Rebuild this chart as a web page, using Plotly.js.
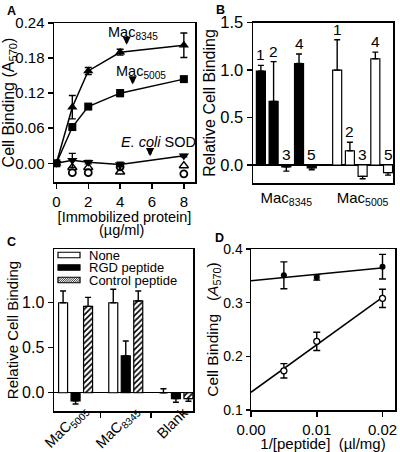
<!DOCTYPE html>
<html><head><meta charset="utf-8">
<script src="https://cdn.plot.ly/plotly-3.0.1.min.js"></script>
<style>html,body{margin:0;padding:0;background:#fff}</style>
</head><body><div id="chart" style="width:400px;height:452px"></div>
<script>
// ---------- Panel A ----------
const aConc = [0, 1, 2, 4, 8];
const aMac8345 = [0, 0.096, 0.158, 0.19, 0.202];
const aMac8345Err = [0.002, 0.02, 0.006, 0.005, 0.021];
const aMac5005 = [0, 0.062, 0.097, 0.12, 0.144];
const aMac5005Err = [0.002, 0.003, 0.004, 0.006, 0.002];
const aSod = [0, 0.005, 0.002, -0.002, 0.013];
const aSodErr = [0.002, 0.012, 0.003, 0.004, 0.002];
const aCtrlConc = [1, 2, 4, 8];
const aCtrlTriangle = [-0.007, -0.007, -0.015, -0.004];
const aCtrlCircle = [-0.016, -0.016, -0.006, -0.018];

// ---------- Panel B ----------
const bGroups = ['Mac<sub>8345</sub>', 'Mac<sub>5005</sub>'];
const bBarLabels = ['1', '2', '3', '4', '5'];
const bMac8345 = [0.99, 0.67, -0.02, 1.07, -0.03];
const bMac8345Err = [0.06, 0.42, 0.045, 0.10, 0.02];
const bMac5005 = [1.0, 0.15, -0.12, 1.12, -0.08];
const bMac5005Err = [0.32, 0.09, 0.025, 0.07, 0.027];

// ---------- Panel C ----------
const cCategories = ['MaC<sub>5005</sub>', 'MaC<sub>8345</sub>', 'Blank'];
const cSeriesNames = ['None', 'RGD peptide', 'Control peptide'];
const cNone = [1.0, 1.0, 0.0];
const cNoneErr = [0.13, 0.15, 0.045];
const cRgd = [-0.09, 0.41, -0.065];
const cRgdErr = [0.035, 0.165, 0.04];
const cControl = [0.96, 1.02, -0.065];
const cControlErr = [0.10, 0.11, 0.03];

// ---------- Panel D ----------
const dInvPeptide = [0.005, 0.01, 0.02];
const dFilled = [0.351, 0.347, 0.367];
const dFilledErr = [0.025, 0.005, 0.023];
const dOpen = [0.173, 0.228, 0.308];
const dOpenErr = [0.0135, 0.017, 0.017];

// ---------- helpers ----------
const FONT = 'Liberation Sans, Arial, Helvetica, sans-serif';
const W = 400, H = 452;
const px = v => v / W;
const py = v => 1 - v / H;
const dx = (a, b) => [a / W, b / W];
const dy = (top, bottom) => [1 - bottom / H, 1 - top / H];
const tf = s => ({size: s, family: FONT, color: 'black'});

function oneSidedErr(vals, errs) {
  return {
    type: 'data', symmetric: false,
    array: vals.map((v, i) => v >= 0 ? errs[i] : 0),
    arrayminus: vals.map((v, i) => v < 0 ? errs[i] : 0),
    color: 'black', thickness: 1.4, width: 3
  };
}
function symErr(errs) {
  return {type: 'data', array: errs, color: 'black', thickness: 1.4, width: 3.5};
}
function fit(xs, ys) {
  const n = xs.length;
  const mx = xs.reduce((a, b) => a + b, 0) / n;
  const my = ys.reduce((a, b) => a + b, 0) / n;
  let sxy = 0, sxx = 0;
  for (let i = 0; i < n; i++) { sxy += (xs[i] - mx) * (ys[i] - my); sxx += (xs[i] - mx) ** 2; }
  const m = sxy / sxx, b = my - m * mx;
  const x0 = 0, x1 = Math.max(...xs) + 0.0002;
  return {x: [x0, x1], y: [b + m * x0, b + m * x1]};
}

const axBase = {
  showline: true, linecolor: 'black', linewidth: 1.5, mirror: true,
  ticks: 'outside', ticklen: 5, tickwidth: 1.5, tickcolor: 'black',
  showgrid: false, zeroline: false, automargin: false
};

const traces = [];
// Panel A traces
const lineA = {color: 'black', width: 1.5};
traces.push({x: aConc, y: aMac8345, xaxis: 'x', yaxis: 'y', mode: 'lines+markers', name: 'Mac8345',
  line: lineA, marker: {symbol: 'triangle-up', size: 9, color: 'black'}, error_y: symErr(aMac8345Err)});
traces.push({x: aConc, y: aMac5005, xaxis: 'x', yaxis: 'y', mode: 'lines+markers', name: 'Mac5005',
  line: lineA, marker: {symbol: 'square', size: 8, color: 'black'}, error_y: symErr(aMac5005Err)});
traces.push({x: aConc, y: aSod, xaxis: 'x', yaxis: 'y', mode: 'lines+markers', name: 'E. coli SOD',
  line: lineA, marker: {symbol: 'triangle-down', size: 9, color: 'black'}, error_y: symErr(aSodErr)});
traces.push({x: aCtrlConc, y: aCtrlTriangle, xaxis: 'x', yaxis: 'y', mode: 'markers', name: 'control 1',
  marker: {symbol: 'triangle-up-open', size: 8, color: 'black', line: {width: 1.5}}});
traces.push({x: aCtrlConc, y: aCtrlCircle, xaxis: 'x', yaxis: 'y', mode: 'markers', name: 'control 2',
  marker: {symbol: 'circle-open', size: 7, color: 'black', line: {width: 1.8}}});

// Panel B trace (single bar trace, two groups)
const bX = [], bY = [], bE = [], bC = [];
[bMac8345, bMac5005].forEach((arr, g) => {
  arr.forEach((v, i) => {
    bX.push(g * 6 + i); bY.push(v);
    bE.push((g === 0 ? bMac8345Err : bMac5005Err)[i]);
    bC.push(g === 0 ? 'black' : 'white');
  });
});
traces.push({type: 'bar', x: bX, y: bY, xaxis: 'x2', yaxis: 'y2', width: 0.71,
  marker: {color: bC, line: {color: 'black', width: 1.2}}, error_y: oneSidedErr(bY, bE)});

// Panel C traces
const cStyles = [
  {color: 'white', line: {color: 'black', width: 1.2}},
  {color: 'black', line: {color: 'black', width: 1.2}},
  {color: 'white', line: {color: 'black', width: 1.2},
   pattern: {shape: '/', fgcolor: 'black', bgcolor: 'white', size: 4, solidity: 0.4, fillmode: 'replace'}}
];
[[cNone, cNoneErr], [cRgd, cRgdErr], [cControl, cControlErr]].forEach((pair, k) => {
  traces.push({type: 'bar', x: cCategories, y: pair[0], name: cSeriesNames[k], xaxis: 'x3', yaxis: 'y3',
    marker: cStyles[k], error_y: oneSidedErr(pair[0], pair[1])});
});

// Panel D traces
const fF = fit(dInvPeptide, dFilled), fO = fit(dInvPeptide, dOpen);
traces.push({x: fF.x, y: fF.y, xaxis: 'x4', yaxis: 'y4', mode: 'lines', line: {color: 'black', width: 1.5}, name: 'fit filled'});
traces.push({x: fO.x, y: fO.y, xaxis: 'x4', yaxis: 'y4', mode: 'lines', line: {color: 'black', width: 1.5}, name: 'fit open'});
traces.push({x: dInvPeptide, y: dFilled, xaxis: 'x4', yaxis: 'y4', mode: 'markers', name: 'filled',
  marker: {symbol: 'circle', size: 6, color: 'black'}, error_y: symErr(dFilledErr)});
traces.push({x: dInvPeptide, y: dOpen, xaxis: 'x4', yaxis: 'y4', mode: 'markers', name: 'open',
  marker: {symbol: 'circle', size: 6, color: 'white', line: {color: 'black', width: 1.3}}, error_y: symErr(dOpenErr)});

// annotations
const ann = [];
const letter = (t, x, y) => ann.push({text: '<b>' + t + '</b>', xref: 'paper', yref: 'paper', x: px(x), y: py(y),
  showarrow: false, font: tf(12.5), xanchor: 'center', yanchor: 'middle'});
letter('A', 11, 11); letter('B', 220, 10); letter('C', 11, 242); letter('D', 219, 238);

// Panel A labels + arrows
const aTxt = (t, x, y) => ann.push({text: t, xref: 'x', yref: 'y', x: x, y: y, showarrow: false,
  font: tf(14.5), xanchor: 'center', yanchor: 'middle'});
aTxt('Mac<sub>8345</sub>', 4.78, 0.223);
aTxt('Mac<sub>5005</sub>', 5.3, 0.157);
aTxt('<i>E. coli</i> SOD', 6.42, 0.037);
const aArrow = (x, y) => ann.push({text: '', xref: 'x', yref: 'y', x: x, y: y, ax: 0, ay: -7, showarrow: true,
  arrowhead: 2, arrowsize: 0.55, arrowwidth: 3, arrowcolor: 'black'});
aArrow(4.41, 0.203); aArrow(4.79, 0.135); aArrow(5.88, 0.012);
// second line of panel A x-axis title (kept tight like the original)
ann.push({text: '(µg/ml)', xref: 'paper', yref: 'paper', x: px(121), y: py(230), xanchor: 'center', yanchor: 'middle',
  showarrow: false, font: tf(14.5)});

// Panel B bar number labels
bX.forEach((x, i) => {
  ann.push({text: bBarLabels[i % 5], xref: 'x2', yref: 'y2', x: x, y: Math.max(bY[i] + (bY[i] >= 0 ? bE[i] : 0), 0),
    yanchor: 'bottom', yshift: 0, showarrow: false, font: tf(15.5)});
});

// Panel C rotated category labels (centres placed below each category, as in the original)
const cLabelCentres = [[66.7, 427], [118.3, 427], [172.5, 423]];
cCategories.forEach((c, k) => {
  ann.push({text: c, xref: 'paper', yref: 'paper', x: px(cLabelCentres[k][0]), y: py(cLabelCentres[k][1]),
    xanchor: 'center', yanchor: 'middle', textangle: -45, showarrow: false, font: tf(14.5)});
});

// Panel C legend (compact, like the original)
const shapes = [];
const legendRows = [255, 267.5, 280];
const sx0 = 58, sx1 = 80, sh = 5.5;
const legText = (t, y) => ann.push({text: t, xref: 'paper', yref: 'paper', x: px(87), y: py(y), xanchor: 'left',
  yanchor: 'middle', showarrow: false, font: tf(13)});
shapes.push({type: 'rect', xref: 'paper', yref: 'paper', x0: px(sx0), x1: px(sx1), y0: py(legendRows[0] - sh / 2), y1: py(legendRows[0] + sh / 2),
  fillcolor: 'white', line: {color: 'black', width: 1.2}});
shapes.push({type: 'rect', xref: 'paper', yref: 'paper', x0: px(sx0), x1: px(sx1), y0: py(legendRows[1] - sh / 2), y1: py(legendRows[1] + sh / 2),
  fillcolor: 'black', line: {color: 'black', width: 1.2}});
(function () {
  const top = legendRows[2] - sh / 2, bot = legendRows[2] + sh / 2;
  let p = '';
  for (let s = sx0 - sh; s < sx1; s += 2.2) {
    let xa = s, ya = bot, xb = s + sh, yb = top;
    if (xa < sx0) { ya = bot - (sx0 - xa); xa = sx0; }
    if (xb > sx1) { yb = top + (xb - sx1); xb = sx1; }
    if (xb <= xa) continue;
    p += 'M' + px(xa) + ',' + py(ya) + 'L' + px(xb) + ',' + py(yb);
  }
  shapes.push({type: 'path', xref: 'paper', yref: 'paper', path: p, line: {color: 'black', width: 0.8}});
  shapes.push({type: 'rect', xref: 'paper', yref: 'paper', x0: px(sx0), x1: px(sx1), y0: py(top), y1: py(bot),
    line: {color: 'black', width: 1.2}});
})();
cSeriesNames.forEach((n, k) => legText(n, legendRows[k]));

const layout = {
  width: W, height: H, margin: {l: 0, r: 0, t: 0, b: 0},
  paper_bgcolor: 'white', plot_bgcolor: 'white', showlegend: false,
  font: {family: FONT, size: 14, color: 'black'},
  barmode: 'group', bargap: 0.253, bargroupgap: 0.28,
  xaxis: Object.assign({}, axBase, {domain: dx(54, 195), anchor: 'y', range: [-0.15, 8.7], tickvals: [0, 2, 4, 6, 8],
    tickfont: tf(15), title: {text: '[Immobilized protein]', font: tf(14.5), standoff: 0}}),
  yaxis: Object.assign({}, axBase, {domain: dy(23, 182), anchor: 'x', range: [-0.032, 0.24], tickvals: [0, 0.06, 0.12, 0.18, 0.24],
    tickformat: '.2f', tickfont: tf(15), title: {text: 'Cell Binding (A<sub>570</sub>)', font: tf(16), standoff: 1}}),
  xaxis2: Object.assign({}, axBase, {domain: dx(253, 393), anchor: 'y2', range: [-0.62, 10.39], tickvals: [2, 8],
    ticktext: bGroups, ticks: '', tickfont: tf(15)}),
  yaxis2: Object.assign({}, axBase, {domain: dy(22.7, 183.3), anchor: 'x2', range: [-0.193, 1.5], tickvals: [0, 0.5, 1, 1.5],
    tickformat: '.1f', tickfont: tf(16.5), zeroline: true, zerolinecolor: 'black', zerolinewidth: 1.2,
    title: {text: 'Relative Cell Binding', font: tf(16), standoff: 0}}),
  xaxis3: Object.assign({}, axBase, {domain: dx(54, 193), anchor: 'y3', type: 'category', range: [-0.43, 2.34],
    tickson: 'boundaries', showticklabels: false}),
  yaxis3: Object.assign({}, axBase, {domain: dy(249, 411), anchor: 'x3', range: [-0.203, 1.597], tickvals: [0, 0.5, 1],
    tickformat: '.1f', tickfont: tf(16), zeroline: true, zerolinecolor: 'black', zerolinewidth: 1.2,
    title: {text: 'Relative Cell Binding', font: tf(15), standoff: 0}}),
  xaxis4: Object.assign({}, axBase, {domain: dx(251, 395), anchor: 'y4', range: [0, 0.0219], tickvals: [0, 0.01, 0.02],
    tickformat: '.2f', tickfont: tf(15), title: {text: '1/[peptide]\u00a0\u00a0(µl/mg)', font: tf(15), standoff: 5}}),
  yaxis4: Object.assign({}, axBase, {domain: dy(249, 410), anchor: 'x4', range: [0.1, 0.4], tickvals: [0.1, 0.2, 0.3, 0.4],
    tickformat: '.1f', tickfont: tf(14), ticklen: 4,
    title: {text: 'Cell Binding\u00a0\u00a0\u00a0(<i>A</i><sub>570</sub>)', font: tf(15.5), standoff: 0}}),
  annotations: ann,
  shapes: shapes
};

Plotly.newPlot('chart', traces, layout, {staticPlot: true, displayModeBar: false});
</script>
</body></html>
